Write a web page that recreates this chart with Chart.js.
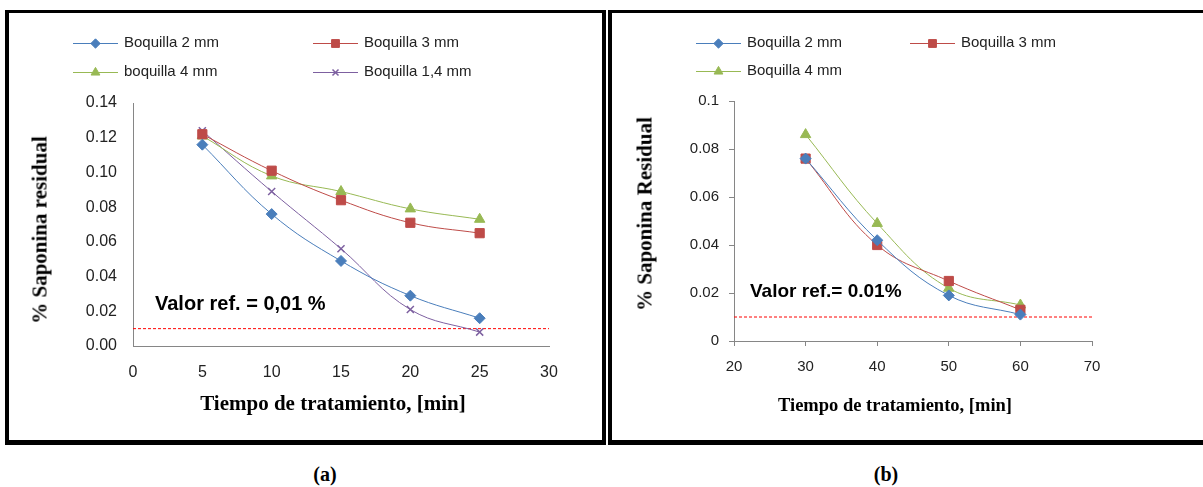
<!DOCTYPE html>
<html>
<head>
<meta charset="utf-8">
<script src="https://cdn.jsdelivr.net/npm/chart.js@4.4.0/dist/chart.umd.min.js"></script>
<style>
  body { margin: 0; width: 1203px; height: 487px; overflow: hidden; background: #fff; position: relative; font-family: "Liberation Sans", Arial, sans-serif; }
  .panel { position: absolute; top: 10px; height: 427px; border: 4px solid #000; border-top-width: 3px; border-bottom-width: 5px; }
  #panelA { left: 5px; width: 593px; }
  #panelB { left: 608px; width: 620px; }
  canvas { position: absolute; }
  #graficoA { left: 9px; top: 13px; }
  #graficoB { left: 612px; top: 13px; }
  .titulo { position: absolute; font-family: "Liberation Serif", "Times New Roman", serif; font-weight: bold; color: #000; white-space: nowrap; transform: translate(-50%, -50%); }
  .vertical { transform: translate(-50%, -50%) rotate(-90deg); }
  .nota { position: absolute; font-weight: bold; color: #000; white-space: nowrap; transform: translateY(-50%); }
</style>
</head>
<body>
<div class="panel" id="panelA"></div>
<div class="panel" id="panelB"></div>
<canvas id="graficoA" width="593" height="427"></canvas>
<canvas id="graficoB" width="591" height="427"></canvas>

<div class="titulo vertical" style="left:40px; top:230px; font-size:21px;">% Saponina residual</div>
<div class="titulo" style="left:333px; top:403px; font-size:21px;">Tiempo de tratamiento, [min]</div>
<div class="nota" style="left:155px; top:303px; font-size:20px;">Valor ref. = 0,01 %</div>

<div class="titulo vertical" style="left:645px; top:214px; font-size:21px;">% Saponina Residual</div>
<div class="titulo" style="left:895px; top:405px; font-size:18.5px;">Tiempo de tratamiento, [min]</div>
<div class="nota" style="left:750px; top:291px; font-size:19px;">Valor ref.= 0.01%</div>

<div class="titulo" style="left:325px; top:474px; font-size:20px;">(a)</div>
<div class="titulo" style="left:886px; top:474px; font-size:20px;">(b)</div>

<script>
// Gráfico (a): tiempos cortos, cuatro boquillas
const tiempoA = [5, 10, 15, 20, 25];
const boq2A = [0.116, 0.076, 0.049, 0.029, 0.016];
const boq3A = [0.122, 0.101, 0.084, 0.071, 0.065];
const boq4A = [0.121, 0.098, 0.089, 0.079, 0.073];
const boq14A = [0.124, 0.089, 0.056, 0.021, 0.008];
const xTicksA = [0, 5, 10, 15, 20, 25, 30];
const yTicksA = [0, 0.02, 0.04, 0.06, 0.08, 0.10, 0.12, 0.14];

// Gráfico (b): tiempos largos, tres boquillas
const tiempoB = [30, 40, 50, 60];
const boq2B = [0.076, 0.042, 0.019, 0.011];
const boq3B = [0.076, 0.040, 0.025, 0.013];
const boq4B = [0.086, 0.049, 0.022, 0.015];
const xTicksB = [20, 30, 40, 50, 60, 70];
const yTicksB = [0, 0.02, 0.04, 0.06, 0.08, 0.1];

// Valor de referencia
const valorRef = 0.01;

const AZUL = "#4a7ebb", ROJO = "#be4b48", VERDE = "#98b954", MORADO = "#7d60a0";

function serie(label, xs, ys, color, estilo, radio) {
  return {
    label,
    data: xs.map((x, i) => ({ x, y: ys[i] })),
    borderColor: color,
    backgroundColor: color,
    pointBackgroundColor: color,
    pointBorderColor: color,
    pointStyle: estilo,
    pointRadius: radio,
    pointBorderWidth: estilo === "crossRot" ? 1.5 : 1,
    borderWidth: 1,
    tension: 0.4
  };
}

function lineaRef(x0, x1) {
  return {
    label: "",
    data: [{ x: x0, y: valorRef }, { x: x1, y: valorRef }],
    borderColor: "#ff0000",
    borderDash: [3, 2],
    borderWidth: 1,
    pointRadius: 0
  };
}

// Leyenda propia: línea con marcador en el centro, como en Excel
const leyenda = {
  id: "leyenda",
  afterDraw(chart, args, opts) {
    const ctx = chart.ctx;
    const items = chart.data.datasets.filter(d => d.label);
    ctx.save();
    ctx.font = opts.font;
    ctx.textBaseline = "middle";
    items.forEach((d, i) => {
      const x = opts.cols[i % opts.cols.length];
      const y = opts.rows[Math.floor(i / opts.cols.length)];
      ctx.strokeStyle = d.borderColor;
      ctx.lineWidth = 1;
      ctx.beginPath();
      ctx.moveTo(x, y + 0.5);
      ctx.lineTo(x + opts.largo, y + 0.5);
      ctx.stroke();
      ctx.fillStyle = d.pointBackgroundColor;
      ctx.strokeStyle = d.pointBorderColor;
      ctx.lineWidth = d.pointBorderWidth;
      Chart.helpers.drawPoint(ctx, { pointStyle: d.pointStyle, radius: d.pointRadius * 0.85, borderWidth: d.pointBorderWidth, rotation: 0 }, x + opts.largo / 2, y + 0.5);
      ctx.fillStyle = "#222";
      ctx.fillText(d.label, x + opts.largo + 6, y);
    });
    ctx.restore();
  }
};

function fijarTicks(lista) {
  return scale => { scale.ticks = lista.map(v => ({ value: v })); };
}

function opciones(cfg) {
  return {
    responsive: false,
    animation: false,
    devicePixelRatio: 1,
    events: [],
    layout: { padding: { top: cfg.top, right: cfg.right, left: 0, bottom: 0 } },
    plugins: {
      legend: { display: false },
      tooltip: { enabled: false },
      leyenda: { cols: cfg.cols, rows: cfg.rows, largo: 45, font: '15px "Liberation Sans"' }
    },
    scales: {
      x: {
        type: "linear",
        min: cfg.xMin, max: cfg.xMax,
        afterBuildTicks: fijarTicks(cfg.xTicks),
        afterFit: s => { s.height = cfg.xAlto; },
        grid: { display: cfg.marcas, drawOnChartArea: false, drawTicks: cfg.marcas, tickLength: 5, color: "#868686" },
        border: { display: true, color: "#868686", width: 1 },
        ticks: { color: "#222", font: { family: "Liberation Sans", size: cfg.fuente }, padding: cfg.xPad, maxRotation: 0 }
      },
      y: {
        min: 0, max: cfg.yMax,
        afterBuildTicks: fijarTicks(cfg.yTicks),
        afterFit: s => { s.width = cfg.yAncho; },
        grid: { display: cfg.marcas, drawOnChartArea: false, drawTicks: cfg.marcas, tickLength: 5, color: "#868686" },
        border: { display: true, color: "#868686", width: 1 },
        ticks: { color: "#222", font: { family: "Liberation Sans", size: cfg.fuente }, padding: cfg.yPad, callback: cfg.formato }
      }
    }
  };
}

new Chart(document.getElementById("graficoA"), {
  type: "line",
  data: {
    datasets: [
      serie("Boquilla 2 mm", tiempoA, boq2A, AZUL, "rectRot", 5.5),
      serie("Boquilla 3 mm", tiempoA, boq3A, ROJO, "rect", 6.5),
      serie("boquilla 4 mm", tiempoA, boq4A, VERDE, "triangle", 6),
      serie("Boquilla 1,4 mm", tiempoA, boq14A, MORADO, "crossRot", 5),
      lineaRef(0, 30)
    ]
  },
  options: opciones({
    top: 90, right: 53, xAlto: 94, yAncho: 124,
    xMin: 0, xMax: 30, yMax: 0.14, xTicks: xTicksA, yTicks: yTicksA,
    marcas: false, fuente: 16, xPad: 17, yPad: 16,
    cols: [64, 304], rows: [30, 59],
    formato: v => v.toFixed(2)
  }),
  plugins: [leyenda]
});

new Chart(document.getElementById("graficoB"), {
  type: "line",
  data: {
    datasets: [
      serie("Boquilla 2 mm", tiempoB, boq2B, AZUL, "rectRot", 5.5),
      serie("Boquilla 3 mm", tiempoB, boq3B, ROJO, "rect", 6.5),
      serie("Boquilla 4 mm", tiempoB, boq4B, VERDE, "triangle", 6),
      lineaRef(20, 70)
    ]
  },
  options: opciones({
    top: 88, right: 111, xAlto: 99, yAncho: 122,
    xMin: 20, xMax: 70, yMax: 0.1, xTicks: xTicksB, yTicks: yTicksB,
    marcas: true, fuente: 15, xPad: 12, yPad: 10,
    cols: [84, 298], rows: [30, 58],
    formato: v => String(+v.toFixed(2))
  }),
  plugins: [leyenda]
});
</script>
</body>
</html>
